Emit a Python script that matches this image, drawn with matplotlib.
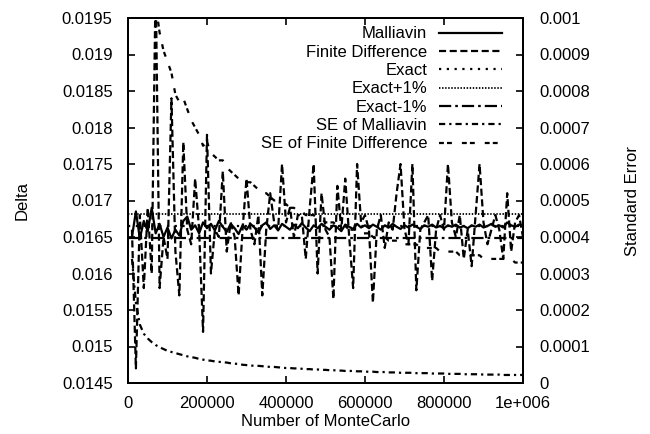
import matplotlib
matplotlib.use("Agg")
import matplotlib.pyplot as plt

plt.rcParams['font.family'] = ['Liberation Sans', 'DejaVu Sans']
plt.rcParams['font.size'] = 12

# Number of MonteCarlo samples
n_samples = [10000 * i for i in range(1, 101)]

# Delta estimates (left axis)
malliavin = [0.01650, 0.01685, 0.01648, 0.01672, 0.01658, 0.01690, 0.01655, 0.01668, 0.01650, 0.01663,
             0.01648, 0.01660, 0.01652, 0.01672, 0.01678, 0.01660, 0.01666, 0.01655, 0.01670, 0.01662,
             0.01668, 0.01659, 0.01672, 0.01664, 0.01657, 0.01668, 0.01662, 0.01654, 0.01666, 0.01660,
             0.01668, 0.01663, 0.01656, 0.01666, 0.01670, 0.01661, 0.01666, 0.01659, 0.01668, 0.01664,
             0.01660, 0.01667, 0.01662, 0.01669, 0.01663, 0.01658, 0.01666, 0.01662, 0.01668, 0.01664,
             0.01660, 0.01666, 0.01663, 0.01658, 0.01667, 0.01664, 0.01661, 0.01668, 0.01663, 0.01666,
             0.01662, 0.01667, 0.01664, 0.01660, 0.01666, 0.01663, 0.01668, 0.01664, 0.01661, 0.01666,
             0.01663, 0.01667, 0.01664, 0.01661, 0.01666, 0.01664, 0.01667, 0.01663, 0.01665, 0.01662,
             0.01666, 0.01664, 0.01667, 0.01663, 0.01665, 0.01662, 0.01666, 0.01664, 0.01667, 0.01663,
             0.01665, 0.01668, 0.01664, 0.01666, 0.01663, 0.01670, 0.01666, 0.01664, 0.01667, 0.01665]

finite_diff = [0.0166, 0.0147, 0.0168, 0.0158, 0.0169, 0.0160, 0.0200, 0.0158, 0.0165, 0.0162,
               0.0184, 0.0163, 0.0157, 0.0178, 0.0166, 0.0164, 0.0173, 0.0166, 0.0152, 0.0179,
               0.0160, 0.0166, 0.0165, 0.0174, 0.0163, 0.0167, 0.0165, 0.0157, 0.0166, 0.0173,
               0.0166, 0.0164, 0.0168, 0.0157, 0.0166, 0.0171, 0.0167, 0.0166, 0.0175, 0.0167,
               0.0169, 0.0165, 0.0168, 0.0168, 0.0162, 0.0169, 0.0175, 0.0160, 0.0171, 0.0166,
               0.0165, 0.01565, 0.0172, 0.0166, 0.0173, 0.0165, 0.0158, 0.0175, 0.0167, 0.0168,
               0.0166, 0.0156, 0.0166, 0.0168, 0.01635, 0.0167, 0.0166, 0.0171, 0.0175, 0.0166,
               0.0164, 0.0175, 0.01577, 0.0166, 0.0167, 0.0168, 0.0159, 0.0166, 0.0168, 0.0166,
               0.0175, 0.0167, 0.0165, 0.0168, 0.0162, 0.0166, 0.0161, 0.0168, 0.0175, 0.0167,
               0.0164, 0.0166, 0.0168, 0.0166, 0.0162, 0.0171, 0.0163, 0.0167, 0.0168, 0.0165]

exact = 0.01665
exact_plus = 0.016817
exact_minus = 0.016484

# Standard errors (right axis)
se_malliavin = [0.00034, 0.00022, 0.00016, 0.000135, 0.000122, 0.000112, 0.000104, 0.000098, 0.000093, 0.000088,
                0.000085, 0.000082, 0.000079, 0.000076, 0.000073, 0.000071, 0.000069, 0.000066, 0.000064, 0.000062,
                0.000061, 0.000059, 0.000058, 0.000057, 0.000056, 0.000054, 0.000053, 0.000052, 0.000050, 0.000049,
                0.000048, 0.000047, 0.000047, 0.000046, 0.000045, 0.000044, 0.000044, 0.000043, 0.000042, 0.000041,
                0.000041, 0.000040, 0.000040, 0.000039, 0.000038, 0.000038, 0.000037, 0.000037, 0.000036, 0.000036,
                0.000035, 0.000035, 0.000034, 0.000034, 0.000033, 0.000033, 0.000033, 0.000032, 0.000032, 0.000031,
                0.000031, 0.000031, 0.000030, 0.000030, 0.000030, 0.000029, 0.000029, 0.000029, 0.000028, 0.000028,
                0.000028, 0.000028, 0.000027, 0.000027, 0.000027, 0.000027, 0.000026, 0.000026, 0.000026, 0.000026,
                0.000025, 0.000025, 0.000025, 0.000025, 0.000024, 0.000024, 0.000024, 0.000024, 0.000024, 0.000023,
                0.000023, 0.000023, 0.000023, 0.000023, 0.000022, 0.000022, 0.000022, 0.000022, 0.000022, 0.000022]

se_finite_diff = [0.0032, 0.0022, 0.0018, 0.0015, 0.0013, 0.00118, 0.00104, 0.00096, 0.00091, 0.00088,
                  0.00085, 0.00079, 0.00077, 0.00078, 0.00075, 0.00072, 0.00070, 0.00068, 0.00065, 0.00066,
                  0.00063, 0.00062, 0.00061, 0.00061, 0.00059, 0.00058, 0.00057, 0.00056, 0.00056, 0.00055,
                  0.00055, 0.00054, 0.00053, 0.00052, 0.00052, 0.00051, 0.00050, 0.00050, 0.00049, 0.00049,
                  0.00048, 0.00048, 0.00047, 0.00047, 0.00046, 0.00046, 0.00046, 0.00045, 0.00045, 0.00044,
                  0.00044, 0.00044, 0.00043, 0.00043, 0.00043, 0.00042, 0.00042, 0.00042, 0.00041, 0.00041,
                  0.00041, 0.00040, 0.00040, 0.00040, 0.00040, 0.00039, 0.00039, 0.00039, 0.00039, 0.00038,
                  0.00038, 0.00038, 0.00038, 0.00037, 0.00037, 0.00037, 0.00037, 0.00037, 0.00036, 0.00036,
                  0.00036, 0.00036, 0.00036, 0.00035, 0.00035, 0.00035, 0.00035, 0.00035, 0.00035, 0.00034,
                  0.00034, 0.00034, 0.00034, 0.00034, 0.00034, 0.00034, 0.00034, 0.00033, 0.00033, 0.00033]

x_ticks = [0, 200000, 400000, 600000, 800000, 1000000]
x_tick_labels = ['0', '200000', '400000', '600000', '800000', '1e+006']
left_ticks = [0.0145, 0.015, 0.0155, 0.016, 0.0165, 0.017, 0.0175, 0.018, 0.0185, 0.019, 0.0195]
left_tick_labels = ['0.0145', '0.015', '0.0155', '0.016', '0.0165', '0.017',
                    '0.0175', '0.018', '0.0185', '0.019', '0.0195']
right_ticks = [0, 0.0001, 0.0002, 0.0003, 0.0004, 0.0005, 0.0006, 0.0007, 0.0008, 0.0009, 0.001]
right_tick_labels = ['0', '0.0001', '0.0002', '0.0003', '0.0004', '0.0005',
                     '0.0006', '0.0007', '0.0008', '0.0009', '0.001']

fig = plt.figure(figsize=(6.5, 4.34), dpi=100)
ax = fig.add_axes([128 / 650, 51 / 434, 395 / 650, 365 / 434])
ax2 = ax.twinx()

lw = 1.6
l1, = ax.plot(n_samples, malliavin, color='black', lw=lw, label='Malliavin')
l2, = ax.plot(n_samples, finite_diff, color='black', lw=lw, dashes=(3.2, 1.6), label='Finite Difference')
l3 = ax.axhline(exact, color='black', lw=lw, dashes=(1, 2.5), label='Exact')
l4 = ax.axhline(exact_plus, color='black', lw=1.3, dashes=(0.8, 0.9), label='Exact+1%')
l5 = ax.axhline(exact_minus, color='black', lw=lw, dashes=(5.5, 1.8, 1.2, 1.8), label='Exact-1%')
l6, = ax2.plot(n_samples, se_malliavin, color='black', lw=lw, dashes=(2.8, 1.8, 1, 1.8), label='SE of Malliavin')
l7, = ax2.plot(n_samples, se_finite_diff, color='black', lw=lw, dashes=(2.2, 1.4, 2.2, 4.5),
               label='SE of Finite Difference')

ax.set_xlim(0, 1000000)
ax.set_ylim(0.0145, 0.0195)
ax2.set_ylim(0, 0.001)

ax.set_xticks(x_ticks)
ax.set_xticklabels(x_tick_labels)
ax.set_yticks(left_ticks)
ax.set_yticklabels(left_tick_labels)
ax2.set_yticks(right_ticks)
ax2.set_yticklabels(right_tick_labels)

ax.tick_params(axis='x', direction='in', length=5, width=1.2, top=True, pad=9)
ax.tick_params(axis='y', direction='in', length=5, width=1.2, pad=11)
ax2.tick_params(axis='y', direction='in', length=5, width=1.2, pad=12)

for a in (ax, ax2):
    for s in a.spines.values():
        s.set_linewidth(1.4)

ax.set_xlabel('Number of MonteCarlo')
ax.xaxis.set_label_coords(0.5, -0.085)
ax.set_ylabel('Delta', va='center')
ax.yaxis.set_label_coords(-0.268, 0.5)
ax2.set_ylabel('Standard Error', va='center')
ax2.yaxis.set_label_coords(1.276, 0.5)

handles = [l1, l2, l3, l4, l5, l6, l7]
leg = ax2.legend(handles=handles, loc='upper right', bbox_to_anchor=(0.947, 0.977),
                 frameon=False, markerfirst=False, alignment='right',
                 handlelength=3.8, handletextpad=0.7, labelspacing=0.2,
                 borderpad=0, borderaxespad=0, fontsize=12)

fig.savefig('out.png', dpi=100)
